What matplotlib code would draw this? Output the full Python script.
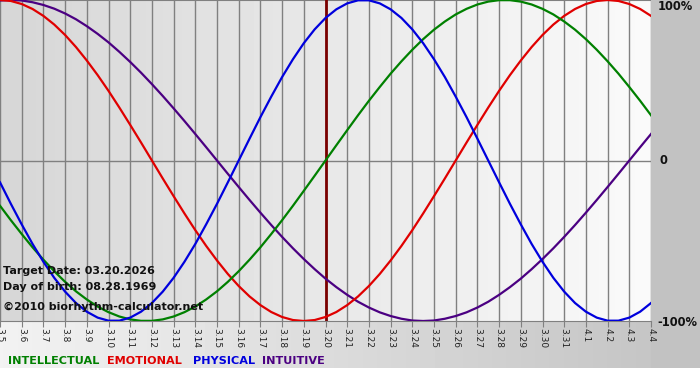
import numpy as np
import matplotlib
matplotlib.use('Agg')
import matplotlib.pyplot as plt

# Day labels along the x axis (3.5 .. 4.4)
day_labels = ['3.5', '3.6', '3.7', '3.8', '3.9', '3.10', '3.11', '3.12', '3.13', '3.14',
              '3.15', '3.16', '3.17', '3.18', '3.19', '3.20', '3.21', '3.22', '3.23', '3.24',
              '3.25', '3.26', '3.27', '3.28', '3.29', '3.30', '3.31', '4.1', '4.2', '4.3', '4.4']

# Values every half day, from 3.5 to 4.4 (-1 .. 1)
physical = [-0.136, -0.270, -0.398, -0.520, -0.631, -0.731, -0.817, -0.888, -0.942, -0.979,
            -0.998, -0.998, -0.979, -0.942, -0.888, -0.817, -0.731, -0.631, -0.520, -0.398,
            -0.270, -0.136, 0.0, 0.136, 0.270, 0.398, 0.520, 0.631, 0.731, 0.817,
            0.888, 0.942, 0.979, 0.998, 0.998, 0.979, 0.942, 0.888, 0.817, 0.731,
            0.631, 0.520, 0.398, 0.270, 0.136, 0.0, -0.136, -0.270, -0.398, -0.520,
            -0.631, -0.731, -0.817, -0.888, -0.942, -0.979, -0.998, -0.998, -0.979, -0.942,
            -0.888]
emotional = [1.0, 0.994, 0.975, 0.944, 0.901, 0.847, 0.782, 0.707, 0.623, 0.532,
             0.434, 0.330, 0.222, 0.112, 0.0, -0.112, -0.222, -0.330, -0.434, -0.532,
             -0.623, -0.707, -0.782, -0.847, -0.901, -0.944, -0.975, -0.994, -1.0, -0.994,
             -0.975, -0.944, -0.901, -0.847, -0.782, -0.707, -0.623, -0.532, -0.434, -0.330,
             -0.222, -0.112, 0.0, 0.112, 0.222, 0.330, 0.434, 0.532, 0.623, 0.707,
             0.782, 0.847, 0.901, 0.944, 0.975, 0.994, 1.0, 0.994, 0.975, 0.944,
             0.901]
intellectual = [-0.282, -0.372, -0.458, -0.541, -0.618, -0.690, -0.756, -0.815, -0.866, -0.910,
                -0.945, -0.972, -0.990, -0.999, -0.999, -0.990, -0.972, -0.945, -0.910, -0.866,
                -0.815, -0.756, -0.690, -0.618, -0.541, -0.458, -0.372, -0.282, -0.189, -0.095,
                0.0, 0.095, 0.189, 0.282, 0.372, 0.458, 0.541, 0.618, 0.690, 0.756,
                0.815, 0.866, 0.910, 0.945, 0.972, 0.990, 0.999, 0.999, 0.990, 0.972,
                0.945, 0.910, 0.866, 0.815, 0.756, 0.690, 0.618, 0.541, 0.458, 0.372,
                0.282]
intuitive = [0.997, 1.0, 0.997, 0.986, 0.969, 0.946, 0.916, 0.880, 0.837, 0.789,
             0.736, 0.677, 0.614, 0.547, 0.476, 0.402, 0.325, 0.246, 0.165, 0.083,
             0.0, -0.083, -0.165, -0.246, -0.325, -0.402, -0.476, -0.547, -0.614, -0.677,
             -0.736, -0.789, -0.837, -0.880, -0.916, -0.946, -0.969, -0.986, -0.997, -1.0,
             -0.997, -0.986, -0.969, -0.946, -0.916, -0.880, -0.837, -0.789, -0.736, -0.677,
             -0.614, -0.547, -0.476, -0.402, -0.325, -0.246, -0.165, -0.083, 0.0, 0.083,
             0.165]

target_label = '3.20'
info_lines = ['Target Date: 03.20.2026', 'Day of birth: 08.28.1969', '\u00a92010 biorhythm-calculator.net']

series = [('INTELLECTUAL', intellectual, '#008000'),
          ('EMOTIONAL', emotional, '#e00000'),
          ('PHYSICAL', physical, '#0000dd'),
          ('INTUITIVE', intuitive, '#4b0082')]
draw_order = ['INTUITIVE', 'EMOTIONAL', 'INTELLECTUAL', 'PHYSICAL']

W, H = 700, 380
fig = plt.figure(figsize=(W / 100, H / 100), dpi=100)

# Figure background: gradient light -> gray, white strip at the bottom
bg = fig.add_axes([0, 0, 1, 1], zorder=-10)
grad = np.linspace(0.95, 0.76, W)
grad[651:] = 0.76
img = np.tile(grad, (H, 1))
img[368:, :] = 1.0
bg.imshow(img, cmap='gray', vmin=0, vmax=1, aspect='auto', extent=(0, W, H, 0))
bg.set_axis_off()

ax = fig.add_axes([0, (H - 321) / H, 651 / W, 321 / H])
days = np.arange(len(day_labels))
ax.set_xlim(0, len(day_labels) - 1)
ax.set_ylim(-1, 1)

# Plot area gradient
pgrad = np.tile(np.linspace(0.84, 0.98, 200), (2, 1))
ax.imshow(pgrad, cmap='gray', vmin=0, vmax=1, aspect='auto',
          extent=(0, len(day_labels) - 1, -1, 1), zorder=0)

for d in days:
    ax.axvline(d, color='#808080', lw=1, zorder=1)
ax.axhline(0, color='#808080', lw=1, zorder=1)
ax.axhline(1, color='#808080', lw=1.5, zorder=1)

ti = day_labels.index(target_label)
ax.axvline(ti, color='#7a0000', lw=2, zorder=2)

# samples every half day
sample_x = np.arange(len(physical)) / 2.0
lookup = {name: (vals, col) for name, vals, col in series}
for name in draw_order:
    vals, col = lookup[name]
    ax.plot(sample_x, vals, color=col, lw=1.6, zorder=3, solid_joinstyle='round')

for s in ax.spines.values():
    s.set_visible(False)
ax.spines['bottom'].set_visible(True)
ax.spines['bottom'].set_color('#808080')

ax.set_xticks(days)
ax.set_xticklabels(day_labels, rotation=270, fontsize=6.5, color='#222222')
ax.tick_params(axis='x', length=4, color='#808080', pad=1)
ax.set_yticks([])

# info text inside the plot
ys = [271, 287, 307]
for txt, yp in zip(info_lines, ys):
    fig.text(3 / W, 1 - yp / H, txt, fontsize=8, fontweight='bold', color='#111111',
             va='center', ha='left', zorder=5)

# right-hand percentage labels
for lab, yp, xp in [('100%', 7, 658), ('0', 161, 660), ('-100%', 322, 657)]:
    fig.text(xp / W, 1 - yp / H, lab, fontsize=8.3, fontweight='bold', color='#111111',
             va='center', ha='left')

# legend row
legend_x = [8, 107, 193, 262]
for (name, vals, col), lx in zip(series, legend_x):
    fig.text(lx / W, 1 - 361 / H, name, fontsize=8.1, fontweight='bold', color=col,
             va='center', ha='left')

fig.savefig('out.png', dpi=100)
